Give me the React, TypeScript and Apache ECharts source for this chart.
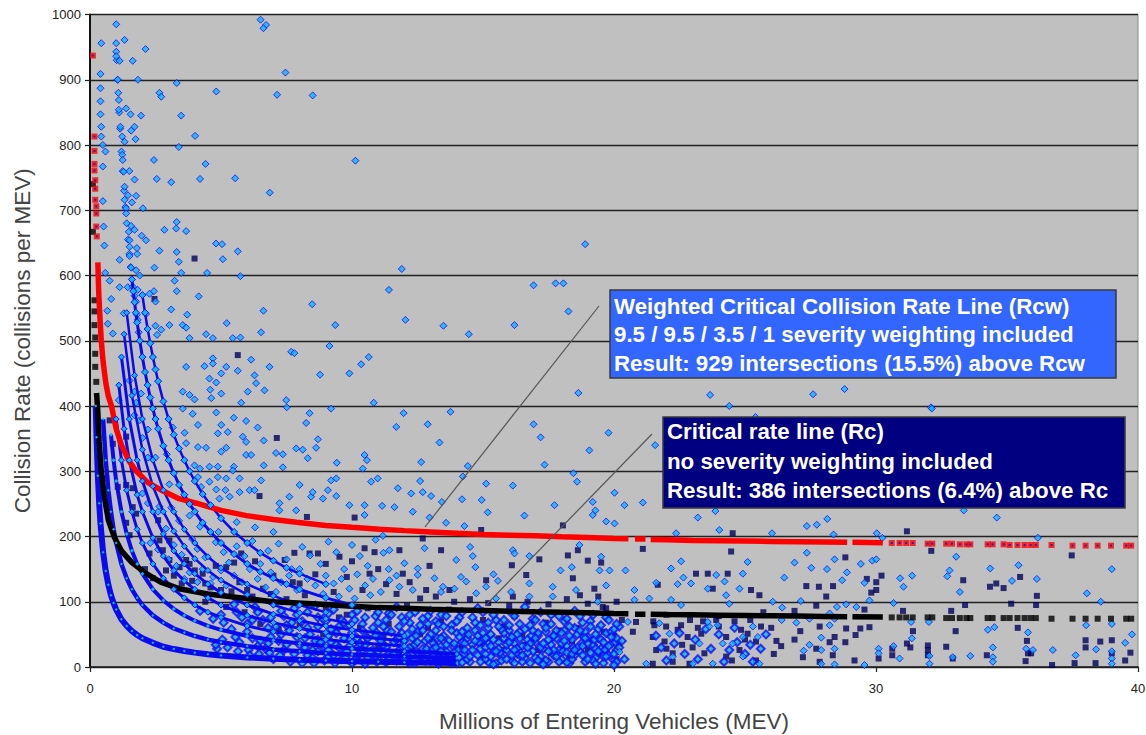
import React, { useEffect, useRef } from "react";
import * as echarts from "echarts";

const xTicks = { min: 0, max: 40, interval: 10 };
const yTicks = { min: 0, max: 1000, interval: 100 };

const redLine: (number | null)[][] = [[0.3,620],[0.33,578],[0.36,550],[0.43,500],[0.5,468],[0.6,436],[0.7,415],[0.82,400],[1,365],[1.2,340],[1.5,315],[1.77,300],[2.2,283],[2.77,270],[3.4,258],[4.06,251],[5,240],[5.97,232],[7,226],[7.88,222],[9,217],[10,214],[11.05,211],[12,209],[13,207],[14,205],[15,203],[16,202],[17,201],[18,199.5],[19,198.5],[20,197],[20.55,196.5],[20.7,null],[20.8,196],[21.2,196],[21.3,null],[21.4,195.5],[22,195],[23,194],[24,193.5],[25,193],[26,192.5],[27,192],[28,191.5],[28.9,191],[29,null],[29.1,191],[30.26,190.5]];
const blackLine: (number | null)[][] = [[0.25,420],[0.3,390],[0.35,345],[0.43,300],[0.55,260],[0.7,225],[0.93,199],[1.2,178],[1.6,160],[2.15,143],[2.7,130],[3.4,120],[4.5,112],[5.97,105],[7,100],[8.5,97],[10,93],[11,91],[12,90],[13,88.5],[14,87.5],[15,86.5],[16,85.5],[17,84.5],[18,84],[19,83],[20,82],[20.55,81.5],[20.7,null],[20.8,81],[21.2,81],[21.3,null],[21.4,81],[22,80.5],[23,80],[24,79.5],[25,79],[26,78.5],[27,78],[28,77.5],[28.9,77],[29,null],[29.1,77],[30.26,76.5]];
const tailX = [30.6,30.9,31.15,31.4,31.97,32.15,32.68,32.9,33.2,33.45,33.6,34.26,34.45,34.87,35.1,35.4,35.67,35.9,36.1,36.7,37.5,38,38.46,38.97,39.55,39.74];
const tailRed = [190,190,190,190,189,189,189,189,188,188,188,188,188,188,187,187,187,187,187,187,186,186,186,186,186,186];
const tailBlack = [76,76,76,76,76,76,75,75,75,75,75,75,75,75,75,75,75,75,75,74,74,74,74,74,74,74];
const redStart = [[0.11,937],[0.17,813],[0.17,791],[0.17,771],[0.17,761],[0.2,746],[0.2,733],[0.2,716],[0.24,706],[0.24,695],[0.24,675],[0.26,660]];
const blackStart = [[0.11,740],[0.11,667],[0.17,562],[0.17,545],[0.17,524],[0.2,505],[0.2,480],[0.2,460],[0.24,437]];

const bandA = [[0.22,400],[0.25,352],[0.3,293],[0.35,251],[0.4,220],[0.5,176],[0.6,147],[0.7,126],[0.8,110],[0.9,98],[1,88],[1.2,73],[1.4,63],[1.6,55],[1.8,49],[2,44],[2.4,37],[2.8,31],[3.2,27.5],[3.6,24.5],[4,22],[4.5,19.5],[5,17.6],[6,14.7],[7,12.6],[8,11],[9,9.8],[10,8.8],[11,8],[12,7.3],[14,6.3]];
const bandB = [[0.5,380],[0.6,317],[0.7,271],[0.8,238],[0.9,211],[1,190],[1.2,158],[1.4,136],[1.6,119],[1.8,106],[2,95],[2.4,79],[2.8,68],[3.2,59],[3.6,53],[4,47.5],[4.5,42],[5,38],[6,32],[7,27],[8,24],[9,21],[10,19],[12,16],[14,13.6]];
const bandC = [[0.8,356],[0.9,317],[1,285],[1.2,238],[1.4,204],[1.6,178],[1.8,158],[2,143],[2.4,119],[2.8,102],[3.2,89],[3.6,79],[4,71],[4.5,63],[5,57],[6,47.5],[7,41],[8,36],[9,32],[10,28.5],[12,24],[14,20]];
const bandD = [[1,380],[1.2,317],[1.4,271],[1.6,238],[1.8,211],[2,190],[2.4,158],[2.8,136],[3.2,119],[3.6,106],[4,95],[4.5,84],[5,76],[6,63],[7,54],[8,47.5],[9,42],[10,38],[12,32]];
const bandE = [[1.1,432],[1.3,365],[1.5,317],[1.8,264],[2,238],[2.4,198],[2.8,170],[3.2,148],[3.6,132],[4,119],[4.5,106],[5,95],[6,79],[7,68],[8,59],[9,53],[10,47.5],[12,40]];
const bandF = [[1.2,475],[1.5,380],[1.8,317],[2,285],[2.4,238],[2.8,204],[3.2,178],[3.6,158],[4,143],[4.5,127],[5,114],[6,95],[7,81],[8,71],[9,63],[10,57],[12,47.5]];
const bandG = [[1.3,510],[1.6,416],[2,333],[2.4,277],[2.8,238],[3.2,208],[3.6,185],[4,166],[4.5,148],[5,133],[6,111],[7,95],[8,83],[9,74],[10,66]];
const bandH = [[1.4,543],[1.7,447],[2,380],[2.4,317],[2.8,271],[3.2,238],[3.6,211],[4,190],[4.5,169],[5,152],[6,127],[7,109],[8,95],[9,84]];
const bandJ = [[1.6,594],[1.65,576],[1.7,559],[1.75,543],[1.8,528],[1.9,500],[2,475],[2.1,452],[2.2,432],[2.3,413],[2.4,396],[2.5,380],[2.6,365],[2.8,339],[3,317],[3.2,297],[3.4,279],[3.6,264],[3.8,250],[4,238],[4.3,221],[4.6,207],[5,190],[5.5,173],[6,158],[6.5,146],[7,136],[7.5,127],[8,119],[9,106],[10,95]];
const bandK = [[2,570],[2.1,543],[2.2,518],[2.3,496],[2.4,475],[2.5,456],[2.6,438],[2.8,407],[3,380],[3.2,356],[3.4,335],[3.6,317],[3.8,300],[4,285],[4.3,265],[4.6,248],[5,228],[5.5,207],[6,190],[6.5,175],[7,163],[7.5,152],[8,143],[9,127]];
const columnTop = [[1.02,930],[1.05,900],[1.08,880],[1.12,850],[1.15,825],[1.2,790],[1.25,760],[1.3,730],[1.35,705],[1.4,680],[1.45,655],[1.5,633],[1.55,613],[1.5,760],[1.6,712],[1.7,670],[1.8,633],[1.9,600]];

const diamondsUpper = [[1,985],[6.51,992],[6.72,984],[6.62,979],[0.43,956],[1,956],[1.32,961],[2.12,947],[1,943],[1,936],[1.13,929],[1.63,929],[0.4,909],[7.46,911],[1.06,900],[1.83,900],[3.31,895],[0.4,887],[2.65,880],[2.72,874],[4.82,882],[7.14,877],[8.5,876],[0.4,867],[1.1,869],[1.1,854],[1.38,856],[1.55,847],[1.95,845],[3.48,845],[0.4,847],[0.43,828],[1.16,828],[1.7,828],[1.57,822],[4.01,814],[0.43,813],[1.23,813],[1.74,809],[1.32,805],[0.49,800],[3.39,797],[0.59,790],[1.23,785],[1.25,777],[2.44,777],[10.13,776],[4.41,771],[0.49,767],[1.28,759],[1.7,747],[2.55,748],[3.1,743],[4.2,748],[5.54,749],[1.32,736],[1.45,723],[1.76,722],[6.86,727],[0.49,714],[1.32,716],[1.38,703],[2.02,703],[1.38,695],[1.57,676],[0.52,675],[3.31,682],[3.29,672],[3.67,668],[2.84,670],[1.48,667],[1.97,661],[2.14,654],[1.51,654],[0.55,646],[1.51,644],[1.79,642],[4.81,649],[5.04,648],[5.64,637],[2.65,638],[3.31,636],[1.51,630],[5.07,625],[1.13,624],[3.39,621],[2.46,612],[1.57,612],[1.76,608],[0.58,604],[3.48,604],[4.47,604],[5.74,599],[0.75,592],[3.23,592],[1.13,582],[1.44,582],[1.63,583],[2.44,576],[3.31,576],[1.82,578],[1.7,569],[2.27,572],[2.5,560],[0.81,564],[4.15,568],[8.48,556],[1.76,560],[3.1,548],[0.66,546],[1.29,542],[6.62,546],[2.14,541],[3.71,540],[1.79,540],[1.82,532],[2.5,523],[3.03,524],[3.54,524],[3.67,520],[5.22,527],[9.36,524],[0.68,526],[0.87,511],[1.86,513],[6.53,513],[4.43,510],[2.72,517],[2.56,509],[5.74,505],[4.69,504],[5.45,504],[3.8,504]];
const diamondsUpperMid = [[3.67,460],[4.37,461],[4.69,473],[4.69,465],[5.2,460],[5.64,454],[6.15,471],[6.85,460],[7.68,483],[7.8,481],[9.14,492],[10.64,475],[10.35,464],[9.9,450],[8.78,448],[1.51,439],[4.56,442],[5.01,450],[4.82,436],[6.28,447],[6.34,435],[6.66,424],[6.02,422],[4.59,425],[5.01,419],[4.63,412],[5.77,405],[7.49,409],[7.51,398],[9.2,396],[10.83,405],[1.7,422],[1.95,419],[1.76,405],[1.1,409],[3.54,422],[3.99,410],[3.8,417],[3.54,396],[3.92,388],[4.82,390],[5.49,382],[1.7,386],[1.89,378],[5.96,377],[8.38,389],[8.25,374],[4.12,371],[5.01,371],[6.4,367],[2.21,364],[5.26,360],[4.88,358],[3.61,359],[3.16,367],[5.83,353],[6.63,347],[8.7,349],[2,351],[3.67,343],[4.12,337],[4.43,336],[5.96,345],[7.87,335],[8.12,333],[8.63,336],[5.2,336],[5.01,330],[7.1,328],[7.36,326],[5.96,325],[2.21,321],[2.5,321],[2.93,326],[6.15,325],[8.31,320],[10.48,325],[10.57,317],[9.42,313],[3.99,309],[4.2,304],[4.88,307],[5.49,307],[6.63,309],[7.36,306],[10.41,304],[5.45,301],[4.56,307],[10.98,289],[9.2,286],[10.73,284],[5.2,289],[5.71,289],[4.56,284],[6.53,286],[4.88,291],[8,279],[9.4,289],[4.12,291],[6.09,271],[6.28,271],[5.71,268],[5.17,271],[4.82,272],[2.21,251],[2.65,246],[3.03,280],[2,266],[5.33,261],[4.94,258],[4.24,276],[7.61,261],[8.44,261],[8.89,258],[9.08,271],[9.4,262],[7.23,251],[7.87,240],[9.9,248],[10.48,248],[10.48,233],[7.23,240],[8.5,268]];
const diamondsCentre = [[11.41,578],[16.93,585],[17.77,588],[18.07,588],[18.26,545],[12.04,532],[13.49,523],[14.46,510],[18.64,420],[23.67,417],[24.4,400],[11.97,389],[13.76,391],[12.89,372],[11.69,368],[16.93,372],[17.2,352],[13.34,344],[19.79,359],[19.06,332],[21.57,340],[12.64,314],[14.42,308],[17.35,310],[14.23,292],[18.45,297],[18.59,284],[15.12,281],[12.6,285],[16.14,278],[11.75,274],[12.26,266],[12.7,268],[13.02,262],[20.02,267],[14.2,257],[13.43,253],[14.95,256],[21.1,252],[19.19,253],[20.4,248],[17.73,248],[19.29,240],[11.62,245],[11.15,247],[12.32,238],[15.18,237],[23.87,239],[19.19,233],[16.58,232],[12.96,229],[23.2,229],[19.7,223],[20.02,220],[13.59,221],[14.29,216],[22.37,205],[24.02,210],[26.03,205],[18.9,648],[11.9,610],[16.2,524],[32.1,398],[27.6,418],[28.8,426],[25.4,383]];
const diamondsBelowRed = [[11.18,201],[12.77,182],[14.51,184],[11.43,179],[16.14,179],[14.61,170],[18.68,187],[19.51,169],[13.98,164],[12,159],[14.71,153],[12.51,151],[16.2,174],[16.77,170],[18.39,153],[20.44,148],[19.83,148],[19.45,148],[17.96,148],[22.18,151],[22.56,162],[25.1,161],[24.92,143],[23.9,141],[22.65,137],[22.94,128],[24.22,131],[12.51,141],[13.15,136],[14.16,138],[15.4,142],[15.57,132],[21.61,129],[22.43,127],[13.47,123],[14.36,131],[15.12,123],[16.77,128],[17.66,123],[19.7,125],[18.55,118],[20.78,118],[24.28,110],[24.79,120],[23.58,120],[11.43,133],[11.81,123],[12.32,118],[13.4,115],[13.91,120],[14.74,113],[16.07,115],[17.66,108],[19.38,100],[20.78,103],[22.18,103],[22.56,95],[24.4,97],[26.06,100],[21.35,105],[16.77,108],[15.5,105]];
const diamondsRight = [[32.13,396],[33.35,240],[34.61,229],[28.14,227],[27.74,218],[27.36,216],[28.38,203],[30.03,205],[30.24,198],[36.18,198],[33.06,169],[27.36,175],[26.89,160],[28.42,165],[29.86,163],[30.01,165],[29.42,158],[27.53,152],[28.13,150],[28.89,145],[32.81,148],[34.36,151],[35.44,156],[39,150],[26.5,137],[28.71,133],[29.56,129],[30.92,136],[31.38,140],[32.72,139],[35.19,132],[36.14,135],[31.05,123],[33.2,115],[29.75,102],[27.13,101],[30.67,98],[38.05,113],[38.58,100],[26.42,91],[28.51,92],[28.86,96],[29.25,92],[26.4,72],[27.46,74],[28.23,82],[28.42,74],[26.96,68],[31.34,69],[32.02,69],[38.02,64],[39,66],[28.23,64],[34.27,57],[34.52,61],[35.8,53],[39.77,50],[27.91,45],[31.37,44],[27.46,34],[30.67,32],[39.51,37],[30.1,28],[30.1,21],[34.46,30],[35.73,28],[35.99,26],[36.75,26],[38.4,27],[39,24],[27.24,25],[28.42,28],[27.91,26],[30.9,13],[32.04,17],[32.93,15],[33.6,17],[34.46,15],[34.46,8],[37.62,18],[39,13],[39,5],[27.91,5],[28.42,4],[29.56,3],[32.04,5],[21.73,67],[23.64,62],[23.96,64],[23.26,36],[22.12,51],[24.92,46],[25.3,62],[25.49,46],[23,5],[23.77,5],[25.55,5],[22.24,16],[24.92,16],[23.58,69],[24.15,36],[24.53,36],[21.23,5],[20.53,69],[20.21,23]];
const diamondsMid = [[2.3,190],[2.6,180],[3.2,187],[3.5,172],[3.9,196],[4.1,181],[4.4,168],[4.8,191],[5.1,176],[5.3,160],[5.6,185],[5.9,170],[6.2,193],[6.5,158],[6.8,178],[7.2,189],[7.5,165],[7.7,150],[8.1,184],[8.4,171],[8.8,158],[9.1,192],[9.4,176],[9.7,150],[10,187],[10.3,170],[10.6,155],[10.9,195],[11.2,175],[3,165],[3.3,155],[3.8,145],[4.3,150],[4.7,138],[5,148],[5.5,140],[5.8,130],[6.1,150],[6.4,135],[6.9,145],[7.3,130],[7.6,140],[8,150],[8.3,135],[8.6,125],[9,140],[9.3,128],[9.6,135],[9.9,120],[10.2,142],[10.5,125],[10.8,135],[11.1,115],[11.4,150],[11.7,140],[6.7,122],[7.1,115],[7.9,118],[8.9,112],[9.5,108],[10.1,105],[10.7,110],[5.2,125],[4.6,128],[4.1,130],[3.6,135],[2.9,212],[3.4,224],[2.6,238],[4.2,215],[4.9,207],[5.6,222],[6.3,214],[7,207],[3.1,244],[3.8,232]];
const diamondsLow = [[5.5,96],[6.3,92],[7,98],[7.8,90],[8.6,94],[9.3,88],[10.2,86],[11,84],[11.7,92],[12.2,80],[13,86],[13.6,78],[14.2,84],[14.8,90],[15.4,80],[16,86],[16.6,92],[17.2,84],[17.9,78],[18.5,86],[19.2,80],[19.8,72],[5,80],[5.8,76],[6.6,72],[7.4,78],[8.1,70],[8.9,74],[9.7,68],[10.5,76],[11.3,72],[12,70],[12.7,74],[13.3,66],[14,70],[14.6,76],[15.2,68],[15.8,72],[16.4,66],[17,72],[17.6,66],[18.2,74],[18.8,68],[19.5,64],[5.4,58],[6,54],[6.8,60],[7.6,56],[8.4,50],[9.2,58],[10,52],[10.8,60],[11.5,54],[12.3,58],[13,50],[13.8,56],[14.4,60],[15,52],[15.7,58],[16.3,50],[16.9,56],[17.4,60],[18,52],[18.7,56],[19.3,50],[20,58],[4.8,34],[5.7,38],[6.4,32],[7.2,40],[8,34],[8.8,38],[9.5,30],[10.3,36],[11.1,40],[11.9,32],[12.5,38],[13.2,30],[13.9,36],[14.7,40],[15.3,32],[16,38],[16.7,30],[17.3,36],[18.1,40],[18.8,32],[19.6,38],[20.2,30],[6.1,18],[7,12],[7.8,20],[8.5,14],[9.3,18],[10.1,10],[10.9,16],[11.6,20],[12.4,12],[13.1,18],[13.7,10],[14.5,16],[15.1,20],[15.9,12],[16.5,18],[17.1,10],[17.8,16],[18.4,20],[19,12],[19.7,16],[20.1,8],[9.9,64],[10.6,44],[11.2,62],[11.8,46],[12.1,26],[12.6,64],[12.9,44],[13.4,24],[13.5,62],[14.1,46],[14.3,26],[14.9,64],[15.1,44],[15.5,24],[15.6,62],[16.1,46],[16.2,26],[16.8,64],[17,44],[17.5,24],[17.7,48],[18.3,62],[18.5,26],[18.9,44],[19.1,62],[19.4,24],[19.9,46],[20.1,66],[11,24],[10.4,26],[9.7,44],[9.1,26],[8.7,62],[8.2,44],[7.5,64],[6.9,46],[12.2,6],[13.3,5],[14.2,7],[15.4,4],[16.2,6],[17.3,4],[18.2,7],[19.3,5],[20,3],[11.3,7],[10.5,5]];
const diamondsDense = [[6.2,72],[6.5,40],[6.7,28],[7.1,62],[7.3,50],[7.4,26],[7.7,68],[7.9,46],[8.2,30],[8.3,60],[8.6,40],[8.7,24],[9,70],[9.1,48],[9.4,34],[9.5,62],[9.8,24],[9.9,42],[10.1,72],[10.2,30],[10.4,56],[10.7,22],[10.9,48],[11,68],[11.2,34],[11.4,14],[11.5,80],[11.7,42],[11.8,62],[12,12],[12.1,50],[12.2,68],[12.4,34],[12.5,22],[12.7,56],[12.8,10],[12.9,78],[13.1,28],[13.2,70],[13.4,44],[13.5,14],[13.6,34],[13.8,64],[13.9,22],[14,6],[14.1,76],[14.2,54],[14.3,36],[14.4,12],[14.6,26],[14.7,68],[14.8,48],[14.9,8],[15,84],[15.1,30],[15.2,60],[15.3,16],[15.4,42],[15.5,72],[15.6,28],[15.7,10],[15.8,52],[15.9,34],[16,64],[16.1,18],[16.2,78],[16.3,28],[16.4,44],[16.5,8],[16.6,58],[16.7,22],[16.8,36],[16.9,74],[17,14],[17.1,52],[17.2,30],[17.3,66],[17.4,10],[17.5,42],[17.6,80],[17.7,26],[17.8,56],[17.9,8],[18,36],[18.1,70],[18.2,22],[18.3,48],[18.4,12],[18.5,60],[18.6,30],[18.7,78],[18.8,18],[18.9,54],[19,36],[19.1,70],[19.2,10],[19.3,28],[19.4,58],[19.5,42],[19.6,16],[19.7,76],[19.8,32],[19.9,54],[20,20],[20.1,44],[20.2,62],[20.3,40],[20.4,12],[21.6,48],[21.8,30],[22,10],[22.3,36],[22.5,52],[22.7,20],[23.1,42],[23.2,12],[23.5,58],[23.7,28],[24,50],[24.2,8],[24.4,26],[24.6,60],[24.7,38],[25,20],[25.2,34],[25.3,8],[25.6,28],[25.8,50]];
const diamondsFill = [[8.1,6],[8.3,18],[8.5,26],[8.7,42],[8.9,32],[9.1,16],[9.2,38],[9.4,52],[9.6,12],[9.7,22],[9.9,32],[10,6],[10.2,44],[10.3,20],[10.5,34],[10.6,14],[10.8,26],[10.9,54],[11,12],[11.1,44],[11.3,30],[11.4,20],[11.6,38],[11.7,10],[11.8,26],[11.9,52],[12,40],[12.1,18],[12.2,30],[12.3,44],[12.4,6],[12.5,54],[12.6,16],[12.7,28],[12.8,40],[12.9,20],[13,10],[13.1,36],[13.2,56],[13.3,14],[13.4,32],[13.5,48],[13.6,24],[13.7,40],[13.8,6],[13.9,30],[14,52],[14.1,14],[14.2,38],[14.3,20],[14.4,44],[14.5,8],[14.6,34],[14.7,56],[14.8,18],[14.9,28],[15,42],[15.1,12],[15.2,36],[15.3,50],[15.4,24],[15.5,6],[15.6,38],[15.7,16],[15.8,44],[15.9,26],[16,56],[16.1,10],[16.2,36],[16.3,20],[16.4,54],[16.5,32],[16.6,14],[16.7,42],[16.8,6],[16.9,24],[17,38],[17.1,48],[17.2,16],[17.3,28],[17.4,54],[17.5,8],[17.6,34],[17.7,18],[17.8,44],[17.9,26],[18,12],[18.1,56],[18.2,32],[18.3,6],[18.4,42],[18.5,18],[18.6,50],[18.7,24],[18.8,38],[18.9,8],[19,46],[19.1,22],[19.2,34],[19.3,14],[19.4,44],[19.5,28],[19.6,6],[19.7,52],[19.8,18],[19.9,36],[20,10],[20.1,26],[4.2,86],[4.7,74],[5.1,68],[5.6,84],[6,66],[6.4,84],[6.9,76],[7.3,86],[7.9,80],[8.3,84],[8.7,76],[9.1,82],[9.6,72],[10,80],[10.4,66],[10.9,78],[11.4,82],[11.9,76],[12.4,84],[12.9,66],[13.4,80],[10.15,12],[10.55,46],[10.95,8],[11.35,56],[11.75,18],[12.15,8],[12.45,48],[12.85,28],[13.25,44],[13.65,12],[14.05,26],[14.45,50],[14.85,38],[15.25,6],[15.65,22],[16.05,42],[16.45,16],[16.85,48],[17.25,6],[17.65,46],[18.05,24],[18.45,30],[18.85,46],[19.25,42],[19.65,26],[20.05,38],[9.35,6],[9.75,14],[8.95,10],[8.55,6],[7.65,8],[7.25,18],[6.85,22],[6.45,20],[6.05,26],[5.65,24],[5.25,30],[4.85,28],[5.05,42],[5.55,46],[6.2,44],[6.8,36],[7.5,34]];
const navySquares = [[3.99,626],[2.46,564],[5.64,478],[7.13,351],[6.47,262],[10.1,229],[8.28,230],[1.38,353],[0.75,378],[0.87,342],[0.62,289],[1.06,276],[1.38,279],[1.63,274],[1.63,245],[1.76,235],[1.38,221],[2.6,225],[1.51,202],[2.65,194],[3.03,194],[2.27,174],[2.78,179],[3.42,153],[3.67,164],[3.03,164],[4.3,143],[5.2,153],[5.77,174],[6.6,120],[7.43,164],[8.38,174],[8.7,174],[10.48,182],[10.86,176],[9.52,169],[7.74,130],[10.67,143],[12.7,197],[14.93,210],[18.05,217],[24.53,205],[13.4,179],[11.81,179],[12.96,155],[17.15,165],[18.24,171],[18.62,179],[21.1,181],[19,163],[16.1,156],[11.94,143],[19.51,160],[16.65,141],[18.43,136],[24.34,143],[23.13,143],[23.58,143],[24.47,177],[25.23,118],[25.55,110],[19.25,120],[12.83,118],[13.72,118],[15.12,133],[16.14,108],[19.57,92],[19,97],[19.7,90],[21.67,126],[23.77,120],[31.18,208],[32.11,178],[37.47,171],[28.83,168],[30.21,140],[27.34,124],[27.82,123],[28.36,124],[29.65,135],[30.01,130],[29.82,114],[30.01,118],[28.1,108],[33.33,133],[34.35,123],[34.59,128],[34.87,121],[35.5,138],[36.14,109],[36.11,95],[33.4,95],[35.16,97],[27.72,94],[32.87,86],[31.03,86],[26.89,86],[29.56,88],[27.11,55],[27.85,62],[28.86,59],[29.4,59],[29.75,61],[31.41,55],[33.04,55],[35.41,60],[29.22,49],[26.89,42],[28.23,38],[28.42,46],[28.83,38],[35.76,40],[38,41],[38.56,39],[39,41],[31.18,36],[31.31,30],[31.98,33],[31.98,26],[31.98,18],[32.68,31],[26.38,32],[30.62,28],[30.62,18],[38,30],[27.72,28],[28.35,18],[27.21,15],[27.85,8],[29.18,10],[30.1,13],[32.93,13],[34.23,18],[35.71,9],[36.72,3],[37.58,6],[38.38,6],[39.51,10],[39.71,22],[35.8,21],[35.92,21],[39,21],[21.54,64],[21.48,46],[21.99,62],[22.43,57],[22.56,64],[21.93,39],[21.61,26],[22.24,21],[22.81,46],[23.33,51],[23.9,72],[24.28,46],[24.85,57],[25.1,51],[25.42,39],[25.61,62],[24.79,26],[24.28,16],[23.45,21],[22.88,5],[22.24,8],[21.48,5],[25.42,10],[20.72,54],[20.84,69],[3.9,132],[4.6,122],[5.4,116],[6.2,108],[6.9,112],[7.5,104],[8.2,110],[9,92],[9.8,80],[10.6,90],[11.4,66],[12.1,94],[12.9,60],[13.7,88],[14.4,48],[15,72],[15.6,44],[16.2,78],[16.9,40],[17.4,68],[18,30],[18.6,60],[19.1,42],[19.7,28],[20,48],[12.3,30],[13.1,42],[14,28],[14.9,36],[15.8,26],[16.6,34],[17.6,22],[18.3,14],[19.4,20],[20.1,12],[11.2,48],[10.3,60],[8.9,50],[8,64],[7.2,58],[6.5,66],[5.9,84],[5.2,92],[4.4,100],[2.1,150],[2.4,136],[2.9,148],[3.2,140],[3.5,128],[3.8,158],[4,148],[4.4,128],[4.8,155],[5,118],[5.5,160],[5.7,130],[6,118],[6.3,162],[7,140],[7.8,175],[8,128],[8.6,142],[9,158],[9.3,115],[9.8,138],[10,162],[10.4,118],[11,150],[11.3,127],[11.7,112],[12.2,130],[12.6,105],[13.2,108],[13.9,100],[14.5,104],[15.2,98],[16,94],[16.7,100],[17.5,96],[18.2,104],[18.7,110],[19.4,108],[20.1,100],[11,30],[11.8,22],[12.6,50],[13.4,70],[14.2,30],[15,14],[15.8,62],[16.5,48],[17.1,26],[17.9,56],[18.4,40],[19,26],[19.6,54],[10.2,14],[9.5,76],[20.3,72],[20.2,36],[21.5,70],[22,80],[22.9,72],[23.4,70],[24,78],[24.6,70],[25.2,72],[25.7,84],[26,60],[26.2,40],[26.1,20],[24,62],[23,30],[22,28],[22.6,34],[25,42],[24.5,10],[23.2,60]];

const DIAMOND_FILL = "#12b0ff";
const DIAMOND_EDGE = "#0f0ff0";
const FONT = "'Liberation Sans', Arial, sans-serif";

const scatter = (data: number[][], color: string, size: number, symbol: string, border?: string, edge = 1) => ({
  type: "scatter", data, symbol, symbolSize: size, silent: true,
  itemStyle: border ? { color, borderColor: border, borderWidth: edge } : { color },
});
const band = (data: number[][], width: number, mark: number) => ({
  type: "line", data, symbol: "diamond", symbolSize: mark, showSymbol: true, silent: true,
  lineStyle: { color: "#0a0af0", width },
  itemStyle: { color: DIAMOND_FILL, borderColor: DIAMOND_EDGE, borderWidth: mark > 4 ? 1 : 0 },
});
const diamonds = (data: number[][]) => scatter(data, DIAMOND_FILL, 7, "diamond", DIAMOND_EDGE);
const denseDiamonds = (data: number[][]) => scatter(data, DIAMOND_FILL, 8, "diamond", DIAMOND_EDGE, 2);
const thick = (data: (number | null)[][], color: string) => ({
  type: "line", data, symbol: "none", silent: true, lineStyle: { color, width: 5.5 }, connectNulls: false,
});
const boxText = (x: number, y: number, text: string) => ({
  type: "text", x, y, z: 30,
  style: { text, fill: "#ffffff", font: `bold 22.3px ${FONT}`, textVerticalAlign: "middle" },
});
const box = (x: number, y: number, w: number, h: number, fill: string) => ({
  type: "rect", z: 29, shape: { x, y, width: w, height: h },
  style: { fill, stroke: "#3a3a3a", lineWidth: 1.5 },
});
const leader = (x1: number, y1: number, x2: number, y2: number) => ({
  type: "line", z: 28, shape: { x1, y1, x2, y2 }, style: { stroke: "#555555", lineWidth: 1.2 },
});

export default function App() {
  const ref = useRef<HTMLDivElement>(null);
  useEffect(() => {
    const chart = echarts.init(ref.current!, null, { renderer: "svg" });
    const zip = (xs: number[], ys: number[]) => xs.map((x, i) => [x, ys[i]]);
    chart.setOption({
      animation: false,
      backgroundColor: "#ffffff",
      grid: { left: 90, top: 14.5, width: 1048, height: 652.5, outerBoundsMode: "none", show: true, backgroundColor: "#c0c0c0", borderColor: "#8c8c8c", borderWidth: 1 },
      xAxis: {
        type: "value", ...xTicks, splitLine: { show: false },
        axisLine: { show: true, onZero: false, lineStyle: { color: "#222", width: 1.5 } },
        axisTick: { show: true, length: 5, lineStyle: { color: "#222", width: 1.2 } },
        axisLabel: { color: "#222", fontSize: 13, fontFamily: FONT, margin: 15, formatter: (v: number) => String(v) },
        name: "Millions of Entering Vehicles (MEV)", nameLocation: "middle", nameGap: 43,
        nameTextStyle: { color: "#444", fontSize: 22.5, fontFamily: FONT },
      },
      yAxis: {
        type: "value", ...yTicks,
        splitLine: { show: true, lineStyle: { color: "#222", width: 1.4 } },
        axisLine: { show: true, onZero: false, lineStyle: { color: "#111", width: 2 } },
        axisTick: { show: true, length: 5, lineStyle: { color: "#222", width: 1.2 } },
        axisLabel: { color: "#222", fontSize: 13, fontFamily: FONT, margin: 9, formatter: (v: number) => String(v) },
        name: "Collision Rate (collisions per MEV)", nameLocation: "middle", nameGap: 56,
        nameTextStyle: { color: "#444", fontSize: 22.5, fontFamily: FONT },
      },
      graphic: [
        leader(425, 527, 599, 306),
        leader(486, 605, 652, 434),
        box(610, 290, 506, 88, "#3366ff"),
        boxText(614, 306, "Weighted Critical Collision Rate Line (Rcw)"),
        boxText(614, 334, "9.5 / 9.5 / 3.5 / 1 severity weighting included"),
        boxText(614, 363, "Result: 929 intersections (15.5%) above Rcw"),
        box(663, 417, 462, 91, "#000080"),
        boxText(667, 431, "Critical rate line (Rc)"),
        boxText(667, 461, "no severity weighting included"),
        boxText(667, 490, "Result: 386 intersections (6.4%) above Rc"),
      ],
      series: [
        scatter(navySquares, "#00005e", 6, "rect"),
        band(bandA, 6, 3), band(bandB, 4.5, 3), band(bandC, 4, 4), band(bandD, 3, 6), band(bandE, 3, 6),
        band(bandF, 3, 6), band(bandG, 2.5, 6), band(bandH, 2.5, 6), band(bandJ, 3, 7), band(bandK, 2.5, 7),
        diamonds(columnTop),
        denseDiamonds(diamondsFill), denseDiamonds(diamondsDense), denseDiamonds(diamondsLow),
        diamonds(diamondsMid), diamonds(diamondsBelowRed),
        diamonds(diamondsUpper), diamonds(diamondsUpperMid), diamonds(diamondsCentre), diamonds(diamondsRight),
        thick(blackLine, "#000000"),
        scatter(zip(tailX, tailBlack), "#000000", 6, "rect"),
        scatter(blackStart, "#000000", 6, "rect"),
        thick(redLine, "#ff0000"),
        scatter(zip(tailX, tailRed), "#ff0000", 6, "rect"),
        scatter(redStart, "#ff0000", 6, "rect"),
        scatter(zip(tailX, tailRed), "#1414c8", 2, "rect"),
        scatter(redStart, "#1414c8", 2, "rect"),
      ],
    });
    return () => chart.dispose();
  }, []);
  return <div ref={ref} style={{ position: "fixed", left: 0, top: 0, width: 1146, height: 735 }} />;
}
